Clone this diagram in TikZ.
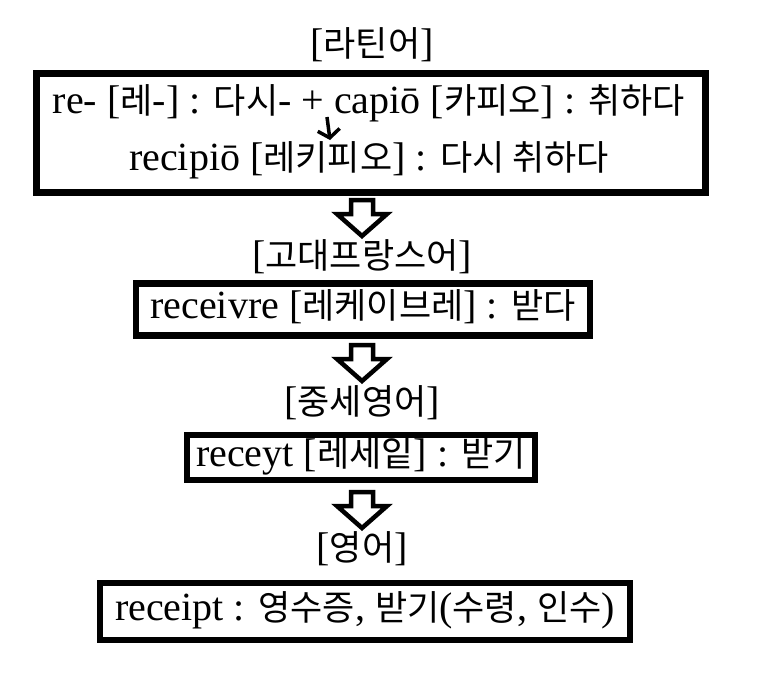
\documentclass[tikz,border=0pt]{standalone}
\usepackage{fontspec}
\setmainfont{Liberation Serif}
\newfontfamily\kr{Noto Sans CJK KR}
\newcommand{\ko}[1]{{\kr\fontsize{35}{40}\selectfont #1}}
\usetikzlibrary{arrows.meta}

\begin{document}
\begin{tikzpicture}[x=1pt, y=-1pt,%
  every node/.style={font=\fontsize{40}{44}\selectfont, inner sep=0pt},
  etym/.style={draw, line width=6.5pt, minimum height=#1},
  head/.style={anchor=center},
  down/.pic={\draw[line width=4.5pt] (-11,0) -- (11,0) -- (11,14) -- (25,14)
    -- (0,36) -- (-25,14) -- (-11,14) -- cycle;},
  >={Straight Barb[length=8pt,width=22pt]}]
  \useasboundingbox (0,0) rectangle (761,681);
  % Latin
  \node[head] (t1) at (372,45) {[\ko{라틴어}]};
  \node[etym=119pt, minimum width=669pt] (b1) at (371,133) {};
  \node (l1) at (369,103) {re- [\ko{레}-] : \ko{다시}- + capiō [\ko{카피오}] : \ko{취하다}};
  \node (l2) at (369,160) {recipiō [\ko{레키피오}] : \ko{다시 취하다}};
  \coordinate (p1) at (327,117); \coordinate (p2) at (330,140);
  \draw[line width=3.5pt, ->] (p1) -- (p2);
  \pic (a1) at (362,200) {down};
  % Old French
  \node[head] (t2) at (362,257) {[\ko{고대프랑스어}]};
  \node[etym=52pt, minimum width=454pt] (b2) at (363,309.5) {\strut receivre [\ko{레케이브레}] : \ko{받다}};
  \pic (a2) at (362,345) {down};
  % Middle English
  \node[head] (t3) at (362,403) {[\ko{중세영어}]};
  \node[etym=45pt, minimum width=348pt] (b3) at (361,457.5) {\strut receyt [\ko{레세잍}] : \ko{받기}};
  \pic (a3) at (362,492) {down};
  % English
  \node[head] (t4) at (362,549) {[\ko{영어}]};
  \node[etym=57pt, minimum width=530pt] (b4) at (365,611.5) {\strut receipt : \ko{영수증}, \ko{받기}(\ko{수령}, \ko{인수})};
\end{tikzpicture}
\end{document}
